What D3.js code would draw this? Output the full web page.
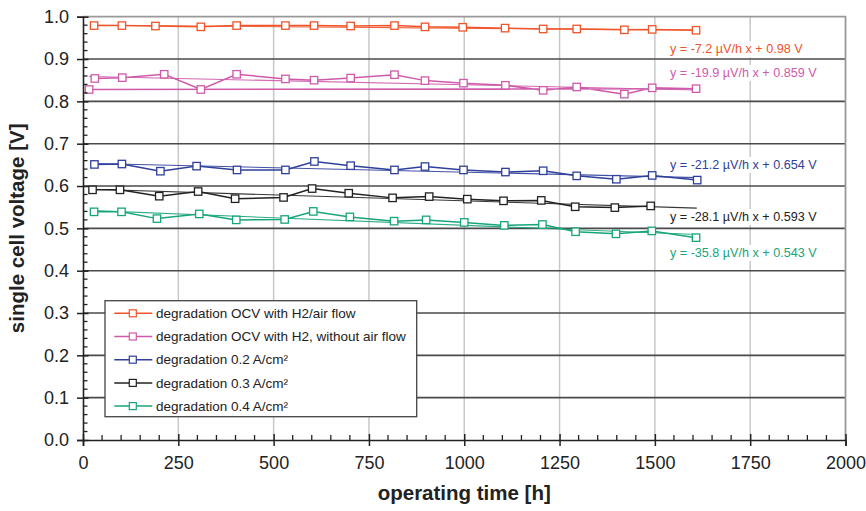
<!DOCTYPE html>
<html><head><meta charset="utf-8">
<script src="https://cdn.jsdelivr.net/npm/d3@7"></script>
<style>body{margin:0;background:#fff}svg{display:block;font-family:"Liberation Sans",Arial,sans-serif}</style>
</head><body><svg id="c" width="866" height="511"></svg>
<script>
// ---- data ----
const seriesNames = ["degradation OCV with H2/air flow","degradation OCV with H2, without air flow","degradation 0.2 A/cm²","degradation 0.3 A/cm²","degradation 0.4 A/cm²"];
const ocvAir = [[29,0.979],[102,0.979],[190,0.978],[309,0.976],[403,0.979],[531,0.979],[606,0.979],[702,0.978],[817,0.979],[897,0.976],[996,0.975],[1107,0.973],[1207,0.971],[1295,0.971],[1420,0.969],[1493,0.970],[1608,0.968]];
const ocvNoAir = [[31,0.854],[103,0.856],[213,0.864],[309,0.828],[403,0.864],[531,0.853],[606,0.850],[702,0.855],[817,0.863],[897,0.849],[998,0.843],[1108,0.838],[1207,0.826],[1295,0.834],[1420,0.817],[1493,0.832],[1608,0.830],[16,0.828]];
const cd02 = [[30,0.651],[102,0.652],[203,0.635],[298,0.647],[404,0.638],[531,0.638],[607,0.658],[702,0.648],[817,0.638],[897,0.646],[998,0.638],[1108,0.633],[1207,0.636],[1295,0.624],[1399,0.616],[1493,0.625],[1611,0.614]];
const cd03 = [[25,0.591],[97,0.591],[200,0.576],[302,0.587],[399,0.570],[526,0.573],[601,0.594],[697,0.583],[812,0.572],[908,0.575],[1008,0.569],[1103,0.565],[1202,0.566],[1291,0.551],[1395,0.549],[1489,0.553]];
const cd04 = [[29,0.539],[101,0.539],[194,0.523],[305,0.534],[402,0.520],[529,0.521],[604,0.540],[700,0.527],[816,0.517],[900,0.520],[1000,0.514],[1105,0.507],[1205,0.509],[1292,0.492],[1398,0.487],[1492,0.494],[1608,0.478]];
const trendSlopes = [-7.2,-19.9,-21.2,-28.1,-35.8];      // µV/h
const trendIntercepts = [0.98,0.859,0.654,0.593,0.543];  // V
const trendEnd = [1610,1608,1611,1610,1610];
const trendLabels = ["y = -7.2 µV/h x + 0.98 V","y = -19.9 µV/h x + 0.859 V","y = -21.2 µV/h x + 0.654 V","y = -28.1 µV/h x + 0.593 V","y = -35.8 µV/h x + 0.543 V"];
const xTicks = [0,250,500,750,1000,1250,1500,1750,2000];
const yTicks = [0,0.1,0.2,0.3,0.4,0.5,0.6,0.7,0.8,0.9,1.0];

// ---- style ----
const colors = ["#f0542a","#cf5aab","#2f3f9c","#222222","#17a57a"];
const labelY = [49,72.5,164.5,216.5,252.5];

const allSeries = [ocvAir, ocvNoAir, cd02, cd03, cd04];
const svg = d3.select("#c");
const L=83, R=845.5, T=16.7, B=440;
const x = d3.scaleLinear().domain([0,2000]).range([L,R]);
const y = d3.scaleLinear().domain([0,1]).range([B,T]);

// vertical gridlines
svg.append("g").selectAll("line").data(xTicks.filter(d=>d>0&&d<2000)).join("line")
  .attr("x1",d=>x(d)).attr("x2",d=>x(d)).attr("y1",T).attr("y2",B)
  .attr("stroke","#c8c8c8").attr("stroke-width",1.5);
// horizontal gridlines
svg.append("g").selectAll("line").data(yTicks.filter(d=>d>0&&d<1)).join("line")
  .attr("x1",L).attr("x2",R).attr("y1",d=>y(d)).attr("y2",d=>y(d))
  .attr("stroke","#4a4a4a").attr("stroke-width",1.6);
// frame top/right
svg.append("path").attr("d",`M${L},${T}H${R}V${B}`).attr("fill","none").attr("stroke","#999").attr("stroke-width",1.8);

// trend label boxes + text (behind data)
const lblG = svg.append("g");
trendLabels.forEach((t,i)=>{
  const tx = lblG.append("text").attr("x",670).attr("y",labelY[i]).attr("dy","0.35em")
    .attr("font-size",12.6).attr("fill",colors[i]).text(t);
  const bb = tx.node().getBBox();
  lblG.insert("rect","text").attr("x",bb.x-6).attr("y",bb.y-1).attr("width",bb.width+12).attr("height",bb.height+2).attr("fill","#fff");
});
svg.append("line").attr("x1",655).attr("x2",816).attr("y1",y(0.9)).attr("y2",y(0.9)).attr("stroke","#777").attr("stroke-width",1.2);

// trend lines
allSeries.forEach((s,i)=>{
  const x0 = d3.min(s,d=>d[0]), x1 = trendEnd[i];
  const f = h => trendIntercepts[i] + trendSlopes[i]*1e-6*h;
  svg.append("line").attr("x1",x(x0)).attr("x2",x(x1)).attr("y1",y(f(x0))).attr("y2",y(f(x1)))
    .attr("stroke",colors[i]).attr("stroke-width",1.1).attr("opacity",0.9);
});

// series
const line = d3.line().x(d=>x(d[0])).y(d=>y(d[1]));
allSeries.forEach((s,i)=>{
  svg.append("path").attr("d",line(s)).attr("fill","none").attr("stroke",colors[i]).attr("stroke-width",1.5);
  svg.append("g").selectAll("rect").data(s).join("rect")
    .attr("x",d=>x(d[0])-3.7).attr("y",d=>y(d[1])-3.7).attr("width",7.4).attr("height",7.4)
    .attr("fill","#fff").attr("stroke",colors[i]).attr("stroke-width",1.3);
});

// axes
const xAxis = d3.axisBottom(x).tickValues(xTicks).tickSize(6).tickPadding(10).tickFormat(d3.format("d"));
const gx = svg.append("g").attr("transform",`translate(0,${B})`).call(xAxis);
gx.selectAll(".tick line").attr("y1",-6).attr("stroke-width",1.5).attr("stroke","#222");
gx.select(".domain").attr("stroke","#222").attr("stroke-width",1.6);
gx.selectAll("text").attr("font-size",18).attr("fill","#222").attr("font-family","Liberation Sans, Arial");
const xMinor = d3.range(50,2000,50).filter(d=>d%250!==0);
svg.append("g").selectAll("line").data(xMinor).join("line")
  .attr("x1",d=>x(d)).attr("x2",d=>x(d)).attr("y1",B-5).attr("y2",B).attr("stroke","#222").attr("stroke-width",1.3);

const yAxis = d3.axisLeft(y).tickValues(yTicks).tickSize(6).tickPadding(8).tickFormat(d3.format(".1f"));
const gy = svg.append("g").attr("transform",`translate(${L},0)`).call(yAxis);
gy.selectAll(".tick line").attr("x1",5.5).attr("stroke-width",1.5).attr("stroke","#222");
gy.select(".domain").attr("stroke","#222").attr("stroke-width",1.6);
gy.selectAll("text").attr("font-size",18).attr("fill","#222").attr("font-family","Liberation Sans, Arial");
const yMinor = d3.range(0.02,1.0,0.02).filter(d=>Math.abs(d*10-Math.round(d*10))>1e-6);
svg.append("g").selectAll("line").data(yMinor).join("line")
  .attr("x1",L).attr("x2",L+4.5).attr("y1",d=>y(d)).attr("y2",d=>y(d)).attr("stroke","#222").attr("stroke-width",1.3);

// axis titles
svg.append("text").attr("x",(L+R)/2).attr("y",500).attr("text-anchor","middle")
  .attr("font-size",20.5).attr("font-weight","bold").attr("fill","#222").text("operating time [h]");
svg.append("text").attr("transform",`translate(24,${(T+B)/2}) rotate(-90)`).attr("text-anchor","middle")
  .attr("font-size",20.5).attr("font-weight","bold").attr("fill","#222").text("single cell voltage [V]");

// legend
const lg = svg.append("g");
lg.append("rect").attr("x",105).attr("y",300.7).attr("width",311.7).attr("height",116).attr("fill","#fff").attr("stroke","#444").attr("stroke-width",1.3);
seriesNames.forEach((n,i)=>{
  const cy = 313.3 + i*23.2;
  lg.append("line").attr("x1",114.3).attr("x2",152.3).attr("y1",cy).attr("y2",cy).attr("stroke",colors[i]).attr("stroke-width",1.5);
  lg.append("rect").attr("x",129.3).attr("y",cy-3.5).attr("width",7).attr("height",7).attr("fill","#fff").attr("stroke",colors[i]).attr("stroke-width",1.2);
  lg.append("text").attr("x",156).attr("y",cy).attr("dy","0.35em").attr("font-size",13.5).attr("fill","#222").text(n);
});
</script></body></html>
